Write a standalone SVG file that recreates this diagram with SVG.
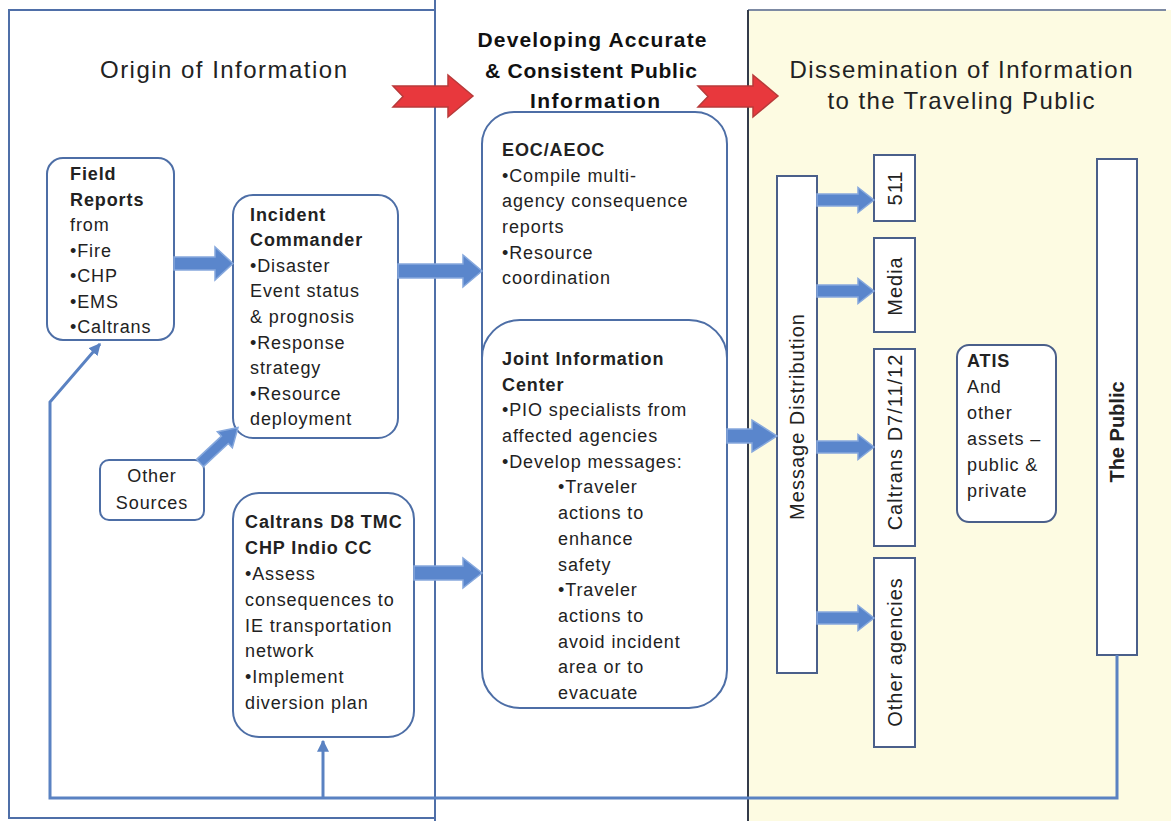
<svg xmlns="http://www.w3.org/2000/svg" width="1171" height="821" viewBox="0 0 1171 821">
<defs>
<style>
.t{font-family:"Liberation Sans",Arial,sans-serif;font-size:18px;fill:#222;letter-spacing:0.9px}
.b{font-weight:bold}
.h{font-family:"Liberation Sans",Arial,sans-serif;font-size:24px;fill:#222}
.hb{font-family:"Liberation Sans",Arial,sans-serif;font-size:21px;font-weight:bold;fill:#111}
.r{font-family:"Liberation Sans",Arial,sans-serif;font-size:20px;fill:#222;letter-spacing:1px}
.node{fill:#fff;stroke:#4d6ea6;stroke-width:2}
.box{fill:#fff;stroke:#4a5f8a;stroke-width:2}
.blk{fill:#5a86cc;stroke:#86a8dd;stroke-width:1.5}
.red{fill:#e8383d;stroke:#b83a3a;stroke-width:1.5}
.fb{fill:none;stroke:#5a82c2;stroke-width:3}
</style>
<marker id="ah" viewBox="0 0 10 10" refX="9" refY="5" markerWidth="4" markerHeight="4" orient="auto">
<path d="M0,0 L10,5 L0,10 z" fill="#5a82c2"/>
</marker>
</defs>
<rect x="0" y="0" width="1171" height="821" fill="#fff"/>
<!-- panels -->
<g id="panels">
<rect x="748" y="10" width="423" height="811" fill="#fdfbe2"/>
<line x1="748" y1="10" x2="1166" y2="10" stroke="#7d8aa3" stroke-width="2"/>
<line x1="748" y1="10" x2="748" y2="821" stroke="#333b4a" stroke-width="2"/>
<rect x="9" y="10" width="426" height="808" fill="none" stroke="#4f6fa8" stroke-width="2"/>
<line x1="435" y1="0" x2="435" y2="821" stroke="#4f6fa8" stroke-width="2"/>
<text class="h" x="100" y="78" textLength="247" lengthAdjust="spacing">Origin of Information</text>
<text class="hb" x="592" y="47" text-anchor="middle" textLength="229" lengthAdjust="spacing">Developing Accurate</text>
<text class="hb" x="591" y="78" text-anchor="middle" textLength="212" lengthAdjust="spacing">&amp; Consistent Public</text>
<text class="hb" x="595" y="108" text-anchor="middle" textLength="130" lengthAdjust="spacing">Information</text>
<text class="h" x="961" y="78" text-anchor="middle" textLength="343" lengthAdjust="spacing">Dissemination of Information</text>
<text class="h" x="961" y="109" text-anchor="middle" textLength="267" lengthAdjust="spacing">to the Traveling  Public</text>
</g>
<!-- red arrows -->
<g id="red-arrows">
<polygon class="red" points="393,86 448,86 448,75 473,96 448,117 448,107 393,107 403,96.5"/>
<polygon class="red" points="698,86 753,86 753,75 778,96 753,117 753,107 698,107 708,96.5"/>
</g>
<!-- nodes -->
<g id="field-reports">
<rect class="node" x="47" y="158" width="127" height="182" rx="16"/>
<text class="t b" x="70" y="180">Field</text>
<text class="t b" x="70" y="206">Reports</text>
<text class="t" x="70" y="231">from</text>
<text class="t" x="70" y="257">•Fire</text>
<text class="t" x="70" y="282">•CHP</text>
<text class="t" x="70" y="308">•EMS</text>
<text class="t" x="70" y="333">•Caltrans</text>
</g>
<g id="incident-commander">
<rect class="node" x="233" y="195" width="165" height="243" rx="20"/>
<text class="t b" x="250" y="221">Incident</text>
<text class="t b" x="250" y="246">Commander</text>
<text class="t" x="250" y="272">•Disaster</text>
<text class="t" x="250" y="297">Event status</text>
<text class="t" x="250" y="323">&amp; prognosis</text>
<text class="t" x="250" y="349">•Response</text>
<text class="t" x="250" y="374">strategy</text>
<text class="t" x="250" y="400">•Resource</text>
<text class="t" x="250" y="425">deployment</text>
</g>
<g id="other-sources">
<rect class="node" x="100" y="460" width="104" height="60" rx="9"/>
<text class="t" x="152" y="482" text-anchor="middle">Other</text>
<text class="t" x="152" y="509" text-anchor="middle">Sources</text>
</g>
<g id="caltrans-d8">
<rect class="node" x="233" y="493" width="181" height="244" rx="26"/>
<text class="t b" x="245" y="528">Caltrans D8 TMC</text>
<text class="t b" x="245" y="554">CHP Indio CC</text>
<text class="t" x="245" y="580">•Assess</text>
<text class="t" x="245" y="606">consequences to</text>
<text class="t" x="245" y="632">IE transportation</text>
<text class="t" x="245" y="657">network</text>
<text class="t" x="245" y="683">•Implement</text>
<text class="t" x="245" y="709">diversion plan</text>
</g>
<g id="eoc">
<rect class="node" x="482" y="112" width="245" height="300" rx="32"/>
<text class="t b" x="502" y="156">EOC/AEOC</text>
<text class="t" x="502" y="182">•Compile multi-</text>
<text class="t" x="502" y="207">agency consequence</text>
<text class="t" x="502" y="233">reports</text>
<text class="t" x="502" y="259">•Resource</text>
<text class="t" x="502" y="284">coordination</text>
</g>
<g id="jic">
<rect class="node" x="482" y="320" width="245" height="388" rx="38"/>
<text class="t b" x="502" y="365">Joint Information</text>
<text class="t b" x="502" y="391">Center</text>
<text class="t" x="502" y="416">•PIO specialists from</text>
<text class="t" x="502" y="442">affected agencies</text>
<text class="t" x="502" y="468">•Develop messages:</text>
<text class="t" x="558" y="493">•Traveler</text>
<text class="t" x="558" y="519">actions to</text>
<text class="t" x="558" y="545">enhance</text>
<text class="t" x="558" y="571">safety</text>
<text class="t" x="558" y="596">•Traveler</text>
<text class="t" x="558" y="622">actions to</text>
<text class="t" x="558" y="648">avoid incident</text>
<text class="t" x="558" y="673">area or to</text>
<text class="t" x="558" y="699">evacuate</text>
</g>
<g id="message-distribution">
<rect class="box" x="777" y="176" width="40" height="497"/>
<text class="r" transform="translate(804,416.5) rotate(-90)" text-anchor="middle">Message Distribution</text>
</g>
<g id="n511">
<rect class="box" x="874" y="155" width="41" height="66"/>
<text class="r" transform="translate(902,188) rotate(-90)" text-anchor="middle">511</text>
</g>
<g id="media">
<rect class="box" x="874" y="238" width="41" height="94"/>
<text class="r" transform="translate(902,286) rotate(-90)" text-anchor="middle">Media</text>
</g>
<g id="caltrans-d7">
<rect class="box" x="874" y="349" width="41" height="197"/>
<text class="r" transform="translate(902,442) rotate(-90)" text-anchor="middle">Caltrans D7/11/12</text>
</g>
<g id="other-agencies">
<rect class="box" x="874" y="558" width="41" height="189"/>
<text class="r" transform="translate(902,652) rotate(-90)" text-anchor="middle">Other agencies</text>
</g>
<g id="atis">
<rect class="box" x="957" y="345" width="99" height="177" rx="12"/>
<text class="t b" x="967" y="367">ATIS</text>
<text class="t" x="967" y="393">And</text>
<text class="t" x="967" y="419">other</text>
<text class="t" x="967" y="445">assets –</text>
<text class="t" x="967" y="471">public &amp;</text>
<text class="t" x="967" y="497">private</text>
</g>
<g id="the-public">
<rect class="box" x="1097" y="159" width="40" height="496"/>
<text class="r b" style="letter-spacing:0" transform="translate(1124,432) rotate(-90)" text-anchor="middle">The Public</text>
</g>
<!-- connectors -->
<g id="connectors">
<polygon class="blk" points="174,257 215,257 215,247 233,263.5 215,280 215,270 174,270"/>
<polygon class="blk" points="398,264 463,264 463,255 482,271 463,287 463,278 398,278"/>
<polygon class="blk" points="414,566 463,566 463,558 482,573 463,588 463,580 414,580"/>
<polygon class="blk" points="727,429 752,429 752,420 777,436 752,452 752,443 727,443"/>
<polygon class="blk" points="817,194 858,194 858,187.5 874,200 858,212.5 858,206 817,206"/>
<polygon class="blk" points="817,285 858,285 858,278.5 874,291 858,303.5 858,297 817,297"/>
<polygon class="blk" points="817,441 858,441 858,434.5 874,447 858,459.5 858,453 817,453"/>
<polygon class="blk" points="817,612 858,612 858,605.5 874,618 858,630.5 858,624 817,624"/>
<polygon class="blk" transform="translate(200,463) rotate(-43)" points="0,-5 34,-5 34,-11 52,0 34,11 34,5 0,5"/>
<path class="fb" d="M1117,655 V798 H50 V402 L100,344" marker-end="url(#ah)"/>
<path class="fb" d="M323,798 V741" marker-end="url(#ah)"/>
</g>
</svg>
